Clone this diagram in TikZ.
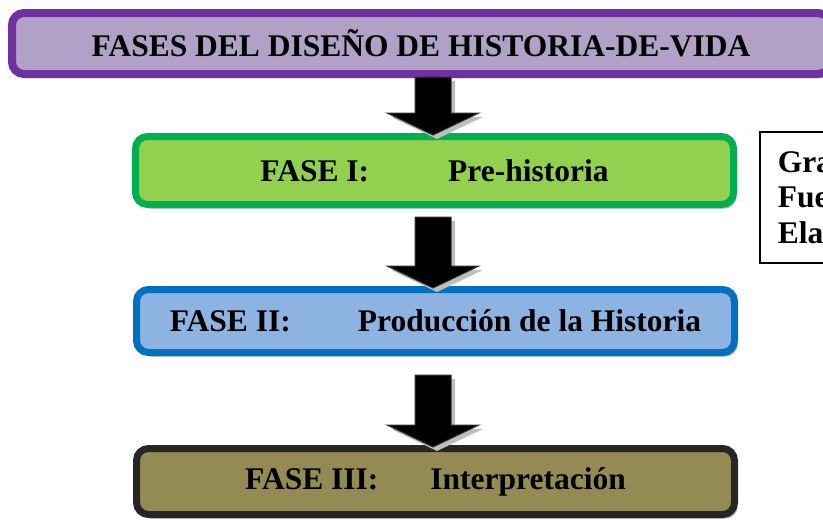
\documentclass[tikz,border=0pt]{standalone}
\usepackage{fontspec}
\setmainfont{Liberation Serif}
\usetikzlibrary{calc,shadows}
\definecolor{fvpurple}{RGB}{112,48,160}
\definecolor{fvlilac}{RGB}{178,161,199}
\definecolor{fvgreen}{RGB}{0,176,80}
\definecolor{fvlime}{RGB}{146,208,80}
\definecolor{fvblue}{RGB}{0,112,192}
\definecolor{fvsky}{RGB}{141,179,226}
\definecolor{fvdark}{RGB}{38,38,38}
\definecolor{fvolive}{RGB}{148,138,84}
\definecolor{fvshade}{RGB}{158,172,184}
\definecolor{fvarrowshade}{RGB}{190,190,190}

\begin{document}
\begin{tikzpicture}[x=1pt, y=-1pt,
  phase/.style={rounded corners=12pt, line width=7pt, inner sep=0pt,
    minimum width=598pt, font=\fontsize{31.5}{36}\selectfont\bfseries,
    drop shadow={shadow xshift=3pt, shadow yshift=-4pt, fill=fvshade, opacity=1}},
  blockarrow/.style={fill=black, draw=black!80, line width=1pt, line join=miter}]
\useasboundingbox (0,0) rectangle (823,520);

% Title
\node[phase, draw=fvpurple, fill=fvlilac, line width=8pt, minimum width=818pt, minimum height=61pt] (title) at (421,43.5) {FASES DEL DISEÑO DE HISTORIA-DE-VIDA};

% Phases
\node[phase, draw=fvgreen, fill=fvlime, minimum height=68pt] (green) at (434.5,170.5) {FASE I:\hspace{79pt}Pre-historia};
\node[phase, draw=fvblue, fill=fvsky, minimum height=63pt] (blue) at (435.5,321) {FASE II:\hspace{67pt}Producción de la Historia};
\node[phase, draw=fvdark, fill=fvolive, minimum height=66pt] (olive) at (435.5,481.5) {FASE III:\hspace{52pt}Interpretación};

% Side note (cut off at the right edge)
\node[draw, line width=1.5pt, anchor=north west, align=left, inner xsep=18pt, minimum height=131pt, text width=80pt, font=\fontsize{31.5}{35.5}\selectfont\bfseries] (note) at (759,131) {Gra\\Fue\\Ela};

% Arrows
\coordinate (a1top) at (433,77);
\coordinate (a2top) at (433,217);
\coordinate (a3top) at (433,375);
\foreach \s/\t in {a1top/green, a2top/blue, a3top/olive} {
  \coordinate (tip) at ($(\s |- \t.north)+(0,2)$);
  \fill[fvarrowshade] ($(\s)+(22,4)$) -- ($(tip)+(22,-18)$) -- ($(tip)+(50,-18)$) -- ($(tip)+(4,4)$) -- ($(tip)+(-42,-18)$) -- ($(tip)+(-14,-18)$) -- ($(\s)+(-14,4)$) -- cycle;
  \draw[blockarrow] ($(\s)+(-18,0)$) -- ($(tip)+(-18,-22)$) -- ($(tip)+(-46,-22)$) -- (tip) -- ($(tip)+(46,-22)$) -- ($(tip)+(18,-22)$) -- ($(\s)+(18,0)$) -- cycle;
}
\end{tikzpicture}
\end{document}
